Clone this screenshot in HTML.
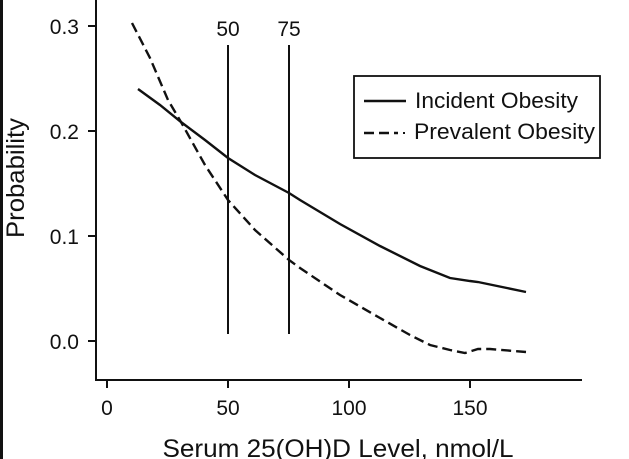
<!DOCTYPE html>
<html><head><style>body{margin:0;background:#fff}svg{display:block}</style></head><body>
<svg width="629" height="459" xmlns="http://www.w3.org/2000/svg" font-family="Liberation Sans, sans-serif" fill="#111">
<rect x="0" y="0" width="3" height="459" fill="#111"/>
<g stroke="#111" stroke-width="2" fill="none">
<line x1="96" y1="0" x2="96" y2="381"/>
<line x1="95" y1="380" x2="582" y2="380"/>
<line x1="88" y1="26" x2="96" y2="26"/><line x1="88" y1="131" x2="96" y2="131"/>
<line x1="88" y1="236" x2="96" y2="236"/><line x1="88" y1="341" x2="96" y2="341"/>
<line x1="107" y1="380" x2="107" y2="388"/><line x1="228" y1="380" x2="228" y2="388"/>
<line x1="349" y1="380" x2="349" y2="388"/><line x1="470" y1="380" x2="470" y2="388"/>
<line x1="228" y1="45" x2="228" y2="334"/><line x1="289" y1="45" x2="289" y2="334"/>
<polyline stroke-width="2.4" points="138,89 160,105 181,122 205,140 228,158 255,175 289,193 300,200 340,224 380,246 420,266 450,278 470,281 478,282 526,292"/>
<polyline stroke-width="2.4" stroke-dasharray="10,5" points="132,23 150,58 168,100 181,122 205,165 228,200 255,230 289,260 300,268 340,295 380,318 410,335 430,345 450,350 465,353 478,349 490,349 526,352"/>
<rect x="354" y="76" width="246" height="82" stroke-width="1.8"/>
<line x1="364" y1="101" x2="406" y2="101" stroke-width="2.4"/>
<line x1="364" y1="133" x2="398" y2="133" stroke-width="2.4" stroke-dasharray="10,5"/>
<line x1="403" y1="133" x2="405" y2="133" stroke-width="2"/>
</g>
<g font-size="21">
<text x="79" y="34" text-anchor="end">0.3</text>
<text x="79" y="139" text-anchor="end">0.2</text>
<text x="79" y="244" text-anchor="end">0.1</text>
<text x="79" y="349" text-anchor="end">0.0</text>
<text x="107" y="415" text-anchor="middle">0</text>
<text x="228" y="415" text-anchor="middle">50</text>
<text x="349" y="415" text-anchor="middle">100</text>
<text x="470" y="415" text-anchor="middle">150</text>
<text x="228" y="36" text-anchor="middle">50</text>
<text x="289" y="36" text-anchor="middle">75</text>
</g>
<g font-size="22">
<text x="415" y="108" textLength="163" lengthAdjust="spacingAndGlyphs">Incident Obesity</text>
<text x="414" y="139" textLength="181" lengthAdjust="spacingAndGlyphs">Prevalent Obesity</text>
</g>
<text x="338" y="457" font-size="25" text-anchor="middle" textLength="351" lengthAdjust="spacingAndGlyphs">Serum 25(OH)D Level, nmol/L</text>
<text transform="translate(24,178) rotate(-90)" font-size="25" text-anchor="middle" textLength="120" lengthAdjust="spacingAndGlyphs">Probability</text>
</svg>
</body></html>
